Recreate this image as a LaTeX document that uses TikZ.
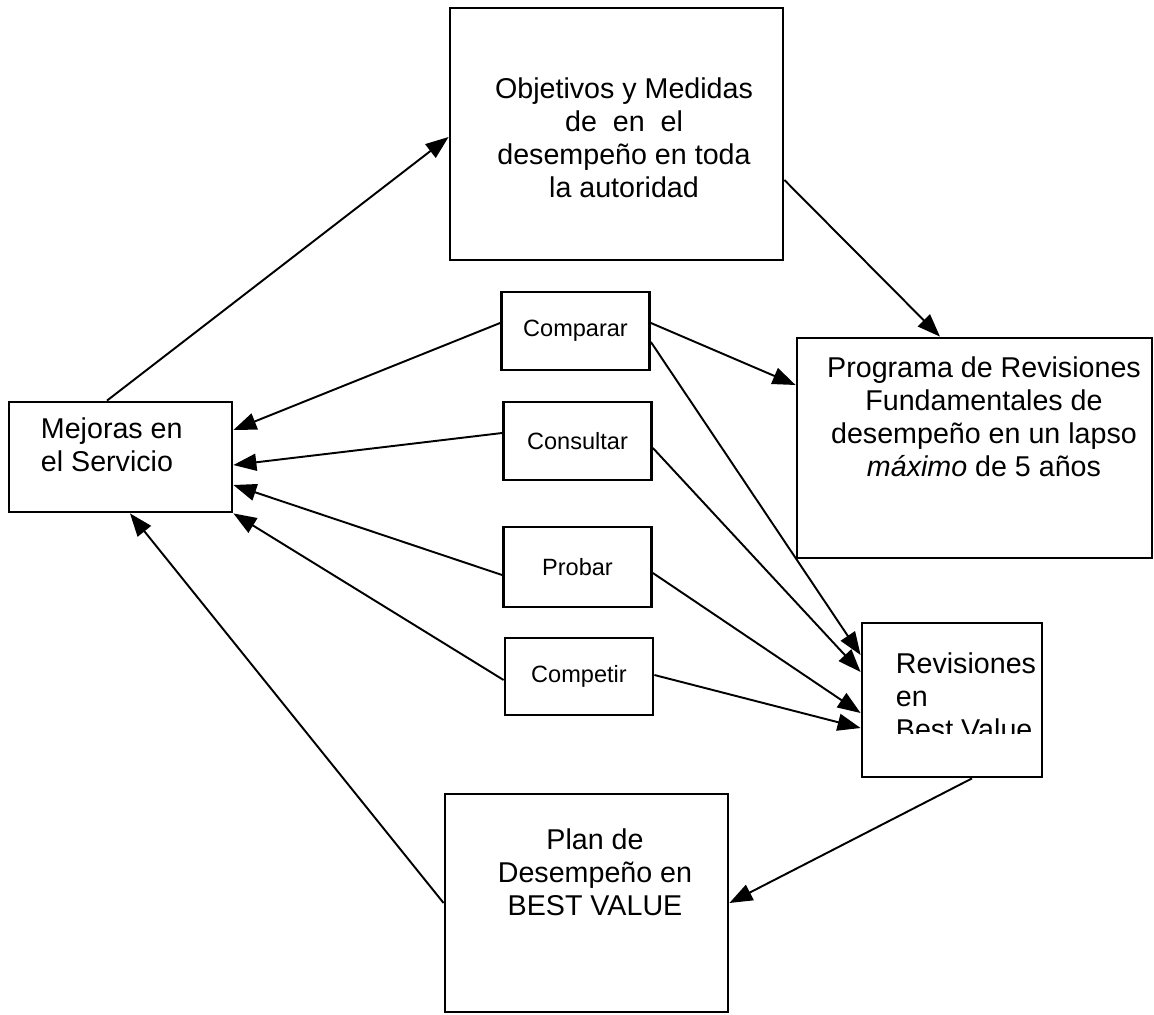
\documentclass[tikz,border=0pt]{standalone}
\usepackage{fontspec}
\setmainfont{Liberation Sans}
\usetikzlibrary{arrows.meta, positioning}

\begin{document}
\begin{tikzpicture}[
    every node/.style={align=center},
    box/.style={draw, line width=1.6pt, inner sep=0pt},
    txt/.style={inner sep=0pt, font=\fontsize{16.3}{18.8}\selectfont},
    small/.style={box, minimum width=2.96cm, font=\fontsize{13.4}{15}\selectfont},
    arr/.style={-{Triangle[length=0.46cm, width=0.34cm]}, line width=1.1pt}
]
\useasboundingbox (0,0) rectangle (23.08,-20.28);

% Cajas grandes
\node[box, minimum width=6.66cm, minimum height=5.04cm] (obj) at (12.33,-2.68) {};
\node[box, minimum width=7.10cm, minimum height=4.40cm] (prog) at (19.49,-8.96) {};
\node[box, minimum width=3.60cm, minimum height=3.08cm] (rev) at (19.04,-14.00) {};
\node[box, minimum width=5.66cm, minimum height=4.36cm] (plan) at (11.73,-18.06) {};
\node[box, minimum width=4.46cm, minimum height=2.20cm] (mej) at (2.41,-9.14) {};

% Textos
\node[txt] (objtxt) at ([xshift=0.15cm, yshift=-0.08cm]obj.center) {Objetivos y Medidas\\de~ en~ el\\desempeño en toda\\la autoridad};
\node[txt, below=0.40cm of prog.north, xshift=0.19cm] (progtxt) {Programa de Revisiones\\Fundamentales de\\desempeño en un lapso\\\textit{máximo} de 5 años};
\node[txt, below=0.72cm of plan.north, xshift=0.17cm] (plantxt) {Plan de\\Desempeño en\\BEST VALUE};
\node[txt, align=left, anchor=north west] (mejtxt) at ([xshift=0.66cm, yshift=-0.34cm]mej.north west) {Mejoras en\\el Servicio};
\begin{scope}
  \clip (rev.north west) rectangle ([yshift=-2.24cm]rev.north east);
  \node[txt, align=left, anchor=north west] (revtxt) at ([xshift=0.70cm, yshift=-0.62cm]rev.north west) {Revisiones\\en\\Best Value};
\end{scope}

% Cajas pequeñas
\node[small, minimum height=1.56cm] (comparar) at (11.51,-6.62) {Comparar};
\node[small, minimum height=1.56cm] (consultar) at (11.55,-8.82) {Consultar};
\node[small, minimum height=1.60cm] (probar) at (11.55,-11.34) {Probar};
\node[small, minimum height=1.54cm] (competir) at (11.58,-13.53) {Competir};

% Flechas del ciclo
\draw[arr] ([xshift=-0.27cm]mej.north) -- ([yshift=-0.06cm]obj.west);
\draw[arr] ([yshift=-0.92cm]obj.east) -- ([xshift=-0.69cm]prog.north);
\draw[arr] ([xshift=0.40cm]rev.south) -- (plan.east);
\draw[arr] (plan.west) -- ([xshift=0.19cm]mej.south);

% Flechas hacia Mejoras
\draw[arr] ([yshift=0.16cm]comparar.west) -- ([yshift=0.54cm]mej.east);
\draw[arr] ([yshift=0.16cm]consultar.west) -- ([yshift=-0.16cm]mej.east);
\draw[arr] ([yshift=-0.16cm]probar.west) -- ([yshift=-0.56cm]mej.east);
\draw[arr] ([yshift=-0.07cm]competir.west) -- (mej.south east);

% Flechas hacia Revisiones
\draw[arr] ([yshift=0.16cm]comparar.east) -- ([yshift=1.26cm]prog.west);
\draw[arr] ([yshift=-0.22cm]comparar.east) -- ([yshift=0.90cm]rev.west);
\draw[arr] ([yshift=-0.14cm]consultar.east) -- ([yshift=0.56cm]rev.west);
\draw[arr] ([yshift=-0.12cm]probar.east) -- ([yshift=-0.26cm]rev.west);
\draw[arr] ([yshift=0.03cm]competir.east) -- ([yshift=-0.56cm]rev.west);

\end{tikzpicture}
\end{document}
